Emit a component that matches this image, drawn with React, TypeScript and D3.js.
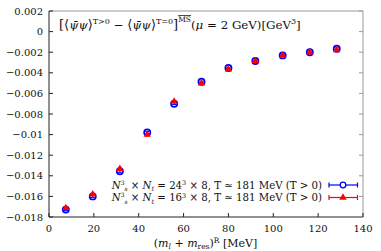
import * as d3 from "d3";

const massR = [7.5, 19.5, 31.6, 43.8, 55.8, 68, 80, 92, 104.2, 116.3, 128.3];
const blue24 = [-0.01728, -0.016, -0.01356, -0.0098, -0.007, -0.00487, -0.00354, -0.00286, -0.00231, -0.00201, -0.00166];
const blueErr = [0.0001, 0.0001, 0.0001, 0.0001, 0.00008, 0.00006, 0.00006, 0.00005, 0.00005, 0.00005, 0.00008];
const red16 = [-0.01712, -0.01579, -0.01333, -0.00999, -0.00678, -0.00503, -0.00367, -0.00285, -0.00233, -0.00202, -0.00179];
const redErr = [0.0001, 0.0001, 0.0001, 0.0001, 0.00008, 0.00006, 0.00006, 0.00005, 0.00005, 0.00005, 0.00008];
const xTicks = [0, 20, 40, 60, 80, 100, 120, 140];
const yTicks = [0.002, 0, -0.002, -0.004, -0.006, -0.008, -0.01, -0.012, -0.014, -0.016, -0.018];

const W = 381;
const H = 251;
const m = { left: 49, right: 18, top: 11, bottom: 34 };
const FONT = "DejaVu Serif";

const fmtY = (v: number) => (v === 0 ? "0" : (v < 0 ? "\u2212" : "") + String(Math.abs(+v.toFixed(3))));

export default function App() {
  const x = d3.scaleLinear().domain([0, 140]).range([m.left, W - m.right]);
  const y = d3.scaleLinear().domain([-0.018, 0.002]).range([H - m.bottom, m.top]);
  const [x0, x1] = x.range();
  const [y0, y1] = y.range();
  const tri = d3.symbol(d3.symbolTriangle, 24)();

  const errBars = (vals: number[], errs: number[], color: string) =>
    vals.map((v, i) => (
      <g key={i} stroke={color} strokeWidth={1}>
        <line x1={x(massR[i])} x2={x(massR[i])} y1={y(v - errs[i])} y2={y(v + errs[i])} />
        <line x1={x(massR[i]) - 2} x2={x(massR[i]) + 2} y1={y(v - errs[i])} y2={y(v - errs[i])} />
        <line x1={x(massR[i]) - 2} x2={x(massR[i]) + 2} y1={y(v + errs[i])} y2={y(v + errs[i])} />
      </g>
    ));

  const legendRow = (ly: number, vol: string, color: string, marker: "circle" | "tri") => (
    <g>
      <text x={322} y={ly + 3.5} textAnchor="end" fontSize={10.2} fontFamily={FONT} fill="#111">
        <tspan fontStyle="italic">N</tspan>
        <tspan dy={-4} fontSize={6}>3</tspan>
        <tspan dy={6.5} fontSize={6} fontStyle="italic">s</tspan>
        <tspan dy={-2.5}> × </tspan>
        <tspan fontStyle="italic">N</tspan>
        <tspan dy={2.5} fontSize={6.5} fontStyle="italic">t</tspan>
        <tspan dy={-2.5}> = {vol}</tspan>
        <tspan dy={-3.5} fontSize={6.5}>3</tspan>
        <tspan dy={3.5}> × 8, T ≃ 181 MeV (T &gt; 0)</tspan>
      </text>
      <g stroke={color} strokeWidth={1.2}>
        <line x1={329} x2={357.5} y1={ly} y2={ly} />
        <line x1={329} x2={329} y1={ly - 2.5} y2={ly + 2.5} />
        <line x1={357.5} x2={357.5} y1={ly - 2.5} y2={ly + 2.5} />
      </g>
      {marker === "circle" ? (
        <circle cx={343} cy={ly} r={2.8} fill="#fff" stroke={color} strokeWidth={1.3} />
      ) : (
        <path d={tri!} transform={`translate(343,${ly})`} fill={color} />
      )}
    </g>
  );

  return (
    <svg width={W} height={H} style={{ position: "absolute", left: 0, top: 0, background: "#fff" }}>
      {/* frame */}
      <line x1={x0} x2={x1} y1={y1} y2={y1} stroke="#999" strokeWidth={1} />
      <line x1={x1} x2={x1} y1={y1} y2={y0} stroke="#999" strokeWidth={1} />
      <line x1={x0} x2={x0} y1={y1} y2={y0} stroke="#222" strokeWidth={1} />
      <line x1={x0} x2={x1} y1={y0} y2={y0} stroke="#222" strokeWidth={1} />

      {yTicks.map((t) => (
        <g key={t}>
          <line x1={x0} x2={x0 + 4} y1={y(t)} y2={y(t)} stroke="#222" />
          <line x1={x1 - 4} x2={x1} y1={y(t)} y2={y(t)} stroke="#999" />
          <text x={43} y={y(t) + 3.5} textAnchor="end" fontSize={10} fontFamily={FONT} fill="#111">
            {fmtY(t)}
          </text>
        </g>
      ))}
      {xTicks.map((t) => (
        <g key={t}>
          <line x1={x(t)} x2={x(t)} y1={y0} y2={y0 - 4} stroke="#222" />
          <text x={x(t)} y={y0 + 15} textAnchor="middle" fontSize={10} fontFamily={FONT} fill="#111">
            {t}
          </text>
        </g>
      ))}

      {/* title */}
      <text x={59} y={29} fontSize={11.8} fontFamily={FONT} fill="#111">
        <tspan fontSize={13}>[⟨</tspan>
        <tspan fontStyle="italic">ψ̄ψ</tspan>
        <tspan fontSize={13}>⟩</tspan>
        <tspan dy={-5} fontSize={8}>T&gt;0</tspan>
        <tspan dy={5}> − </tspan>
        <tspan fontSize={13}>⟨</tspan>
        <tspan fontStyle="italic">ψ̄ψ</tspan>
        <tspan fontSize={13}>⟩</tspan>
        <tspan dy={-5} fontSize={8}>T=0</tspan>
        <tspan dy={5} fontSize={13}>]</tspan>
        <tspan dy={-7} fontSize={7.5} textDecoration="overline">MS</tspan>
        <tspan dy={7}>(</tspan>
        <tspan fontStyle="italic">μ</tspan>
        <tspan> = 2 GeV)[GeV</tspan>
        <tspan dy={-5} fontSize={8}>3</tspan>
        <tspan dy={5}>]</tspan>
      </text>

      {/* x label */}
      <text x={205.5} y={247} textAnchor="middle" fontSize={11} fontFamily={FONT} fill="#111">
        <tspan>(</tspan>
        <tspan fontStyle="italic">m</tspan>
        <tspan dy={2} fontSize={7.5} fontStyle="italic">l</tspan>
        <tspan dy={-2}> + </tspan>
        <tspan fontStyle="italic">m</tspan>
        <tspan dy={2} fontSize={7.5}>res</tspan>
        <tspan dy={-2}>)</tspan>
        <tspan dy={-4.5} fontSize={7.5}>R</tspan>
        <tspan dy={4.5}> [MeV]</tspan>
      </text>

      {/* series */}
      {errBars(blue24, blueErr, "#0000ff")}
      {blue24.map((v, i) => (
        <circle key={i} cx={x(massR[i])} cy={y(v)} r={3.1} fill="none" stroke="#0000ff" strokeWidth={1.7} />
      ))}
      {errBars(red16, redErr, "#ff0000")}
      {red16.map((v, i) => (
        <path key={i} d={tri!} transform={`translate(${x(massR[i])},${y(v)})`} fill="#ff0000" />
      ))}

      {legendRow(185, "24", "#0000ff", "circle")}
      {legendRow(197.5, "16", "#ff0000", "tri")}
    </svg>
  );
}
